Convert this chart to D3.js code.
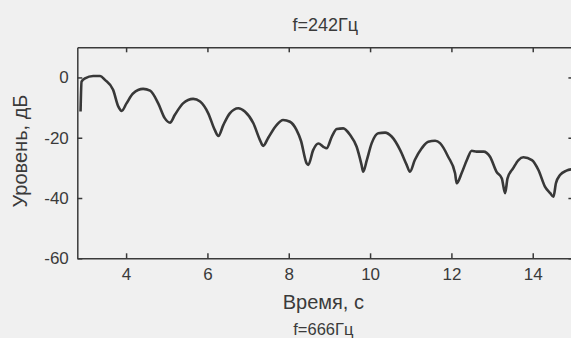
<!DOCTYPE html>
<html>
<head>
  <meta charset="utf-8">
  <title>f=242Гц</title>
  <script src="https://d3js.org/d3.v7.min.js"></script>
  <style>
    body { margin: 0; background: #f0f0f0; overflow: hidden; }
    svg { display: block; }
    text { font-family: "Liberation Sans", Arial, sans-serif; fill: #3a3a3a; }
    .axis path, .axis line { stroke: #3a3a3a; stroke-width: 1.5px; }
    .curve { fill: none; stroke: #383838; stroke-width: 2.6px; stroke-linejoin: round; }
  </style>
</head>
<body>
<svg></svg>
<script>
  // время, с
  const time = [2.88, 2.905, 2.99, 3.19, 3.36, 3.48, 3.68, 3.81, 3.89, 4.01, 4.17, 4.42, 4.59, 4.79, 4.95,
    5.08, 5.20, 5.40, 5.65, 5.82, 6.02, 6.18, 6.27, 6.39, 6.55, 6.76, 6.92, 7.13, 7.29, 7.37, 7.50,
    7.70, 7.86, 8.03, 8.19, 8.30, 8.44, 8.48, 8.60, 8.73, 8.85, 8.93, 9.06, 9.18, 9.34, 9.51, 9.67,
    9.79, 9.83, 9.92, 10.04, 10.20, 10.37, 10.53, 10.74, 10.90, 10.98, 11.10, 11.27, 11.43, 11.60,
    11.72, 11.92, 12.09, 12.13, 12.25, 12.38, 12.50, 12.62, 12.79, 12.95, 13.11, 13.24, 13.32, 13.38,
    13.52, 13.65, 13.77, 13.98, 14.14, 14.30, 14.43, 14.51, 14.57, 14.67, 14.83, 15.0];
  // уровень, дБ
  const level = [-11.3, -1.4, -0.3, 0.5, 0.5, -0.8, -4.1, -9.7, -11.1, -8.6, -5.3, -3.8, -4.4, -8.6, -13.5,
    -15.0, -12.4, -8.6, -7.1, -8.0, -11.9, -17.4, -19.4, -15.8, -11.9, -10.2, -11.3, -15.2, -20.7, -22.7, -19.9,
    -15.8, -14.1, -14.7, -17.4, -21.0, -28.5, -29.0, -24.1, -21.9, -23.0, -23.5, -19.6, -17.1, -16.9, -19.1, -23.0,
    -29.0, -31.3, -27.4, -21.8, -18.5, -18.3, -19.6, -24.1, -29.0, -31.3, -27.4, -23.5, -21.3, -21.0,
    -21.8, -26.3, -31.8, -35.1, -31.8, -27.4, -24.3, -24.6, -24.6, -26.3, -31.3, -33.5, -38.4, -33.5,
    -30.1, -27.4, -26.5, -27.4, -30.7, -36.2, -38.4, -39.6, -35.1, -32.4, -30.9, -30.4];
  const xTicks = [4, 6, 8, 10, 12, 14];
  const yTicks = [0, -20, -40, -60];

  const width = 571, height = 338;
  const m = { left: 77.3, right: 573.4, top: 47.3, bottom: 258.3 };

  const svg = d3.select('svg').attr('width', width).attr('height', height);

  const x = d3.scaleLinear().domain([2.8, 15]).range([m.left, m.right]);
  const y = d3.scaleLinear().domain([-60, 10]).range([m.bottom, m.top]);

  const fmt = d => String(d);

  svg.append('g').attr('class', 'axis')
    .attr('transform', `translate(0,${m.bottom})`)
    .call(d3.axisBottom(x).tickValues(xTicks).tickFormat(fmt).tickSizeInner(-5).tickSizeOuter(0).tickPadding(10))
    .call(g => g.selectAll('text').attr('font-size', 17).attr('font-family', null));

  svg.append('g').attr('class', 'axis')
    .attr('transform', `translate(0,${m.top})`)
    .call(d3.axisTop(x).tickValues(xTicks).tickSizeInner(-5).tickSizeOuter(0).tickFormat(''));

  svg.append('g').attr('class', 'axis')
    .attr('transform', `translate(${m.left},0)`)
    .call(d3.axisLeft(y).tickValues(yTicks).tickFormat(fmt).tickSizeInner(-5).tickSizeOuter(0).tickPadding(8.5))
    .call(g => g.selectAll('text').attr('font-size', 17).attr('font-family', null));

  svg.append('g').attr('class', 'axis')
    .attr('transform', `translate(${m.right},0)`)
    .call(d3.axisRight(y).tickValues(yTicks).tickSizeInner(-5).tickSizeOuter(0).tickFormat(''));

  const line = d3.line().curve(d3.curveMonotoneX).x((d, i) => x(time[i])).y(d => y(d));
  svg.append('path').attr('class', 'curve').attr('d', line(level));

  const cx = (m.left + m.right) / 2;
  svg.append('text').attr('x', cx).attr('y', 31).attr('text-anchor', 'middle')
    .attr('font-size', 18).text('f=242Гц');
  svg.append('text').attr('x', cx - 2).attr('y', 309.3).attr('text-anchor', 'middle')
    .attr('font-size', 20).text('Время, с');
  svg.append('text').attr('x', cx - 2).attr('y', 334.5).attr('text-anchor', 'middle')
    .attr('font-size', 16.5).text('f=666Гц');
  svg.append('text')
    .attr('transform', `translate(26.5,151) rotate(-90)`)
    .attr('text-anchor', 'middle').attr('font-size', 20).text('Уровень, дБ');
</script>
</body>
</html>
